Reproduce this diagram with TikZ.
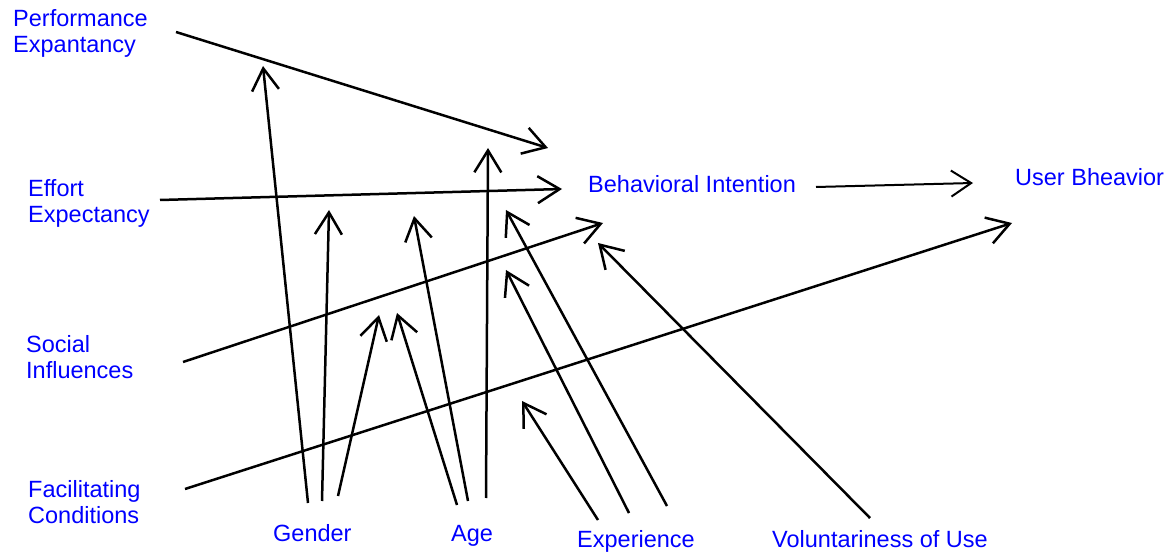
\documentclass[tikz,border=0pt]{standalone}
\usepackage{fontspec}
\setmainfont{Liberation Sans}
\usetikzlibrary{arrows.meta}
\begin{document}
\begin{tikzpicture}[x=1pt,y=-1pt,
  lbl/.style={text=blue,font=\fontsize{23.5}{26}\selectfont,inner sep=0pt,anchor=base west,align=left},
  arr/.style={line width=2.5pt,-{Straight Barb[length=22pt,width=27pt,line width=2.5pt]}},
  thinarr/.style={line width=2pt,-{Straight Barb[length=20pt,width=26pt,line width=2pt]}}]
\useasboundingbox (0,0) rectangle (1168,553);
% labels (base anchor = baseline of last line)
\node[lbl] (pe) at (13,53) {Performance\\Expantancy};
\node[lbl] (ee) at (28,223) {Effort\\Expectancy};
\node[lbl] (si) at (26,379) {Social\\Influences};
\node[lbl] (fc) at (28,523) {Facilitating\\Conditions};
\node[lbl] (bi) at (588,193) {Behavioral Intention};
\node[lbl] (ub) at (1015,186) {User Bheavior};
\node[lbl] (gender) at (273,541) {Gender};
\node[lbl] (age) at (451,541) {Age};
\node[lbl] (exp) at (577,547) {Experience};
\node[lbl] (vol) at (772,547) {Voluntariness of Use};
% endpoints
\coordinate (peS) at (176,32);  \coordinate (peE) at (548,148);
\coordinate (eeS) at (160,200); \coordinate (eeE) at (562,189);
\coordinate (siS) at (183,362); \coordinate (siE) at (603,223);
\coordinate (fcS) at (185,489); \coordinate (fcE) at (1012,223);
\coordinate (biS) at (816,187); \coordinate (biE) at (973,183);
\coordinate (g1S) at (308,503); \coordinate (g1E) at (263,66);
\coordinate (g2S) at (322,501); \coordinate (g2E) at (329,210);
\coordinate (g3S) at (338,496); \coordinate (g3E) at (379,315);
\coordinate (a1S) at (457,505); \coordinate (a1E) at (397,313);
\coordinate (a2S) at (468,501); \coordinate (a2E) at (414,216);
\coordinate (a3S) at (486,498); \coordinate (a3E) at (488,148);
\coordinate (x1S) at (598,520); \coordinate (x1E) at (522,401);
\coordinate (x2S) at (629,513); \coordinate (x2E) at (506,270);
\coordinate (x3S) at (667,506); \coordinate (x3E) at (506,210);
\coordinate (vS) at (870,518);  \coordinate (vE) at (598,243);
% connectors
\draw[arr] (peS) -- (peE);
\draw[arr] (eeS) -- (eeE);
\draw[arr] (siS) -- (siE);
\draw[arr] (fcS) -- (fcE);
\draw[thinarr] (biS) -- (biE);
\draw[arr] (g1S) -- (g1E);
\draw[arr] (g2S) -- (g2E);
\draw[arr] (g3S) -- (g3E);
\draw[arr] (a1S) -- (a1E);
\draw[arr] (a2S) -- (a2E);
\draw[arr] (a3S) -- (a3E);
\draw[arr] (x1S) -- (x1E);
\draw[arr] (x2S) -- (x2E);
\draw[arr] (x3S) -- (x3E);
\draw[arr] (vS) -- (vE);
\end{tikzpicture}
\end{document}
